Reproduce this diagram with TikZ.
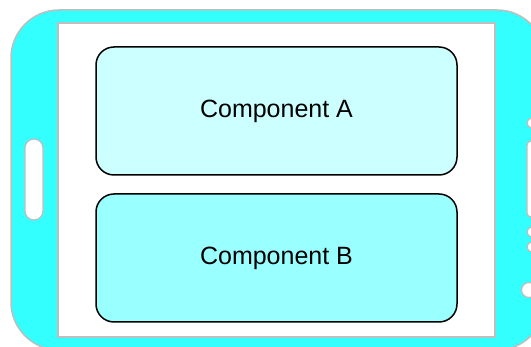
\documentclass[tikz,border=0pt]{standalone}
\usepackage{fontspec}
\setmainfont{Liberation Sans}
\begin{document}
\begin{tikzpicture}[x=1pt,y=-1pt,
  body/.style={fill=phonecyan,draw=edgegray,line width=1.5pt,rounded corners=48pt},
  screen/.style={fill=white,draw=edgegray,line width=1.5pt},
  hole/.style={fill=white,draw=edgegray,line width=1.2pt},
  comp/.style={draw=black,line width=1.5pt,rounded corners=18pt,
    minimum width=361pt,minimum height=128pt,font=\fontsize{25}{29}\selectfont}]
\definecolor{phonecyan}{RGB}{51,255,255}
\definecolor{edgegray}{RGB}{190,190,190}
\definecolor{compA}{RGB}{204,255,255}
\definecolor{compB}{RGB}{153,255,255}
\useasboundingbox (0,0) rectangle (531,347);
\clip (0,0) rectangle (531,347);
% phone body and screen
\draw[body] (11,10) rectangle (545,350);
\draw[screen] (58,23) rectangle (495,337);
% side button on the left
\draw[hole,rounded corners=9pt] (25,139) rectangle (43,220);
% camera, sensors and button on the right
\draw[hole] (532,123) circle (5);
\draw[hole,rounded corners=4pt] (527,141) rectangle (540,217);
\draw[hole] (532,232) circle (5);
\draw[hole] (532,247) circle (5);
\draw[hole] (529,290) circle (7.5);
% components on the screen
\node[comp,fill=compA] (a) at (276.5,111) {Component A};
\node[comp,fill=compB] (b) at (276.5,258) {Component B};
\end{tikzpicture}
\end{document}
